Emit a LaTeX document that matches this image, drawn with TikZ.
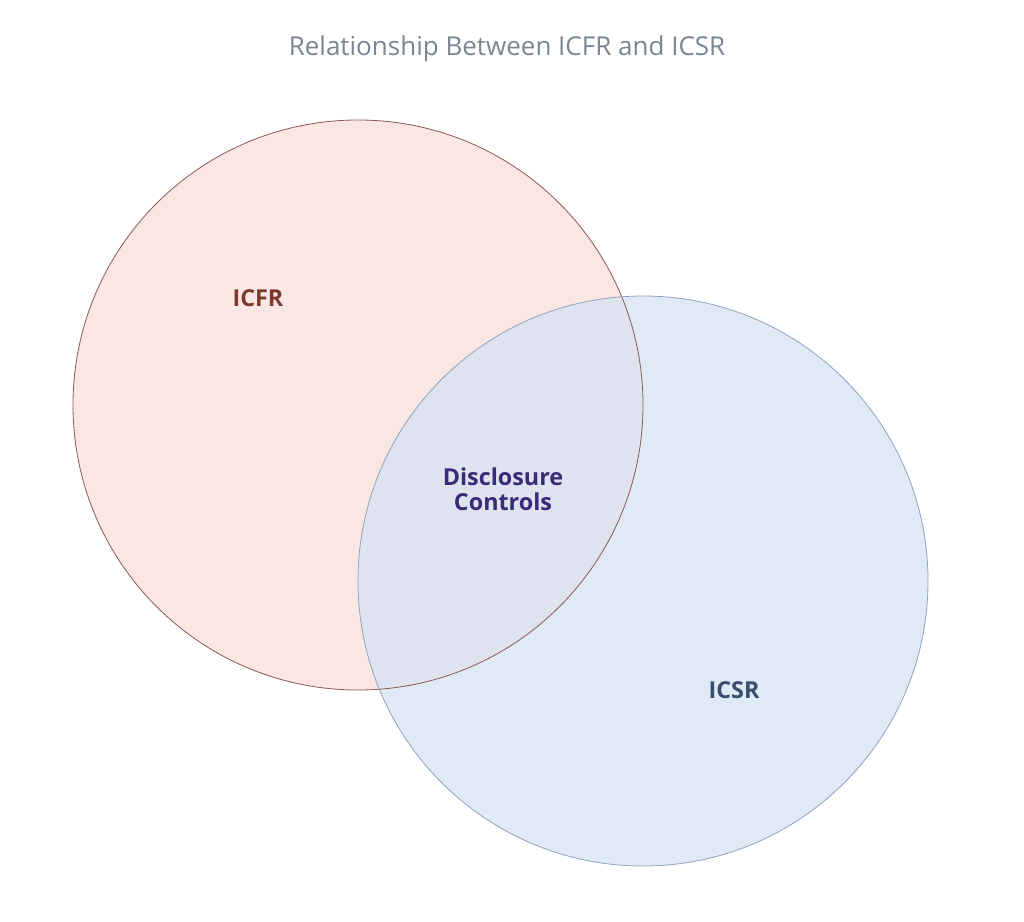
\documentclass[tikz,border=0pt]{standalone}
\usepackage{fontspec}
\setmainfont{Open Sans}
\definecolor{redfill}{HTML}{F8DCD8}
\definecolor{redline}{HTML}{8A5A55}
\definecolor{bluefill}{HTML}{D6E3F4}
\definecolor{blueline}{HTML}{8FA4C0}
\definecolor{titlec}{HTML}{7C8594}
\definecolor{icfrc}{HTML}{7A3B2E}
\definecolor{icsrc}{HTML}{3A4E6E}
\definecolor{discc}{HTML}{3A2A78}
\begin{document}
\begin{tikzpicture}[x=0.75pt,y=-0.75pt,
  setcircle/.style={draw=#1,line width=0.6pt},
  lbl/.style={font=\bfseries\fontsize{17.5}{19}\selectfont,align=center}]
\useasboundingbox (0,0) rectangle (1024,921);
\fill[white] (0,0) rectangle (1024,921);
\node[font=\fontsize{19.5}{22}\selectfont,text=titlec] (title) at (507,49) {Relationship Between ICFR and ICSR};
\fill[redfill,fill opacity=0.7] (358,405) circle (285);
\fill[bluefill,fill opacity=0.75] (643,581) circle (285);
\draw[setcircle=redline] (358,405) circle (285);
\draw[setcircle=blueline] (643,581) circle (285);
\node[lbl,text=icfrc] (icfr) at (258,298) {ICFR};
\node[lbl,text=discc] (disc) at (503,489) {Disclosure\\Controls};
\node[lbl,text=icsrc] (icsr) at (734,690) {ICSR};
\end{tikzpicture}
\end{document}
